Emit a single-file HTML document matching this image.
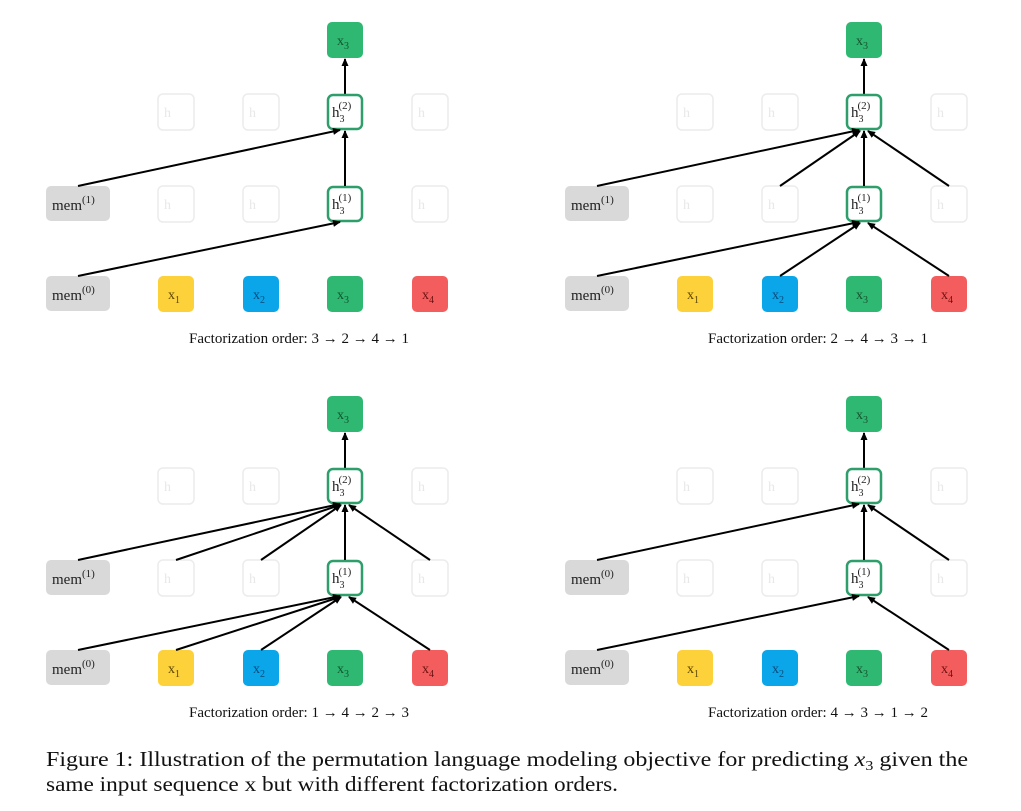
<!DOCTYPE html>
<html><head><meta charset="utf-8"><style>
html,body{margin:0;padding:0;background:#fff;}
svg{display:block;}
.s{font-family:"Liberation Serif",serif;}
</style></head><body>
<svg width="1021" height="811" viewBox="0 0 1021 811" xmlns="http://www.w3.org/2000/svg" class="s">
<defs>
<marker id="a" markerWidth="8" markerHeight="8" refX="7" refY="4" orient="auto" markerUnits="userSpaceOnUse">
<path d="M0,0.5 L8,4 L0,7.5 z" fill="#000"/>
</marker>
<g id="base">
  <!-- top x3 -->
  <rect x="327" y="22" width="36" height="36" rx="5" fill="#2eb872"/>
  <text x="337" y="45" font-size="14" fill="#14532d">x<tspan font-size="10" dy="4">3</tspan></text>
  <line x1="345" y1="94" x2="345" y2="59" stroke="#000" stroke-width="2" marker-end="url(#a)"/>
  <!-- faded h boxes -->
  <g fill="none" stroke="#ececec" stroke-width="1.5">
    <rect x="158" y="94" width="36" height="36" rx="5"/>
    <rect x="243" y="94" width="36" height="36" rx="5"/>
    <rect x="412" y="94" width="36" height="36" rx="5"/>
    <rect x="158" y="186" width="36" height="36" rx="5"/>
    <rect x="243" y="186" width="36" height="36" rx="5"/>
    <rect x="412" y="186" width="36" height="36" rx="5"/>
  </g>
  <g font-size="14" fill="#e8e8e8">
    <text x="164" y="117">h</text><text x="249" y="117">h</text><text x="418" y="117">h</text>
    <text x="164" y="209">h</text><text x="249" y="209">h</text><text x="418" y="209">h</text>
  </g>
  <!-- h boxes -->
  <rect x="328" y="95" width="34" height="34" rx="5" fill="#fff" stroke="#2e9e6a" stroke-width="2.5"/>
  <text x="332" y="117" font-size="15" fill="#222">h<tspan font-size="10" dy="5">3</tspan><tspan font-size="11" dx="-6" dy="-13">(2)</tspan></text>
  <rect x="328" y="187" width="34" height="34" rx="5" fill="#fff" stroke="#2e9e6a" stroke-width="2.5"/>
  <text x="332" y="209" font-size="15" fill="#222">h<tspan font-size="10" dy="5">3</tspan><tspan font-size="11" dx="-6" dy="-13">(1)</tspan></text>
  <line x1="345" y1="186" x2="345" y2="131" stroke="#000" stroke-width="2" marker-end="url(#a)"/>
  <!-- x row -->
  <rect x="158" y="276" width="36" height="36" rx="5" fill="#fdd13a"/>
  <text x="168" y="299" font-size="14" fill="#5a4400">x<tspan font-size="10" dy="4">1</tspan></text>
  <rect x="243" y="276" width="36" height="36" rx="5" fill="#0ba5e9"/>
  <text x="253" y="299" font-size="14" fill="#074a7a">x<tspan font-size="10" dy="4">2</tspan></text>
  <rect x="327" y="276" width="36" height="36" rx="5" fill="#2eb872"/>
  <text x="337" y="299" font-size="14" fill="#14532d">x<tspan font-size="10" dy="4">3</tspan></text>
  <rect x="412" y="276" width="36" height="36" rx="5" fill="#f45d5d"/>
  <text x="422" y="299" font-size="14" fill="#6b1010">x<tspan font-size="10" dy="4">4</tspan></text>
  <!-- mem0 -->
  <rect x="46" y="276" width="64" height="35" rx="5" fill="#d9d9d9"/>
  <text x="52" y="300" font-size="15" fill="#222">mem<tspan font-size="11" dy="-7">(0)</tspan></text>
  <line x1="78" y1="276" x2="340" y2="222" stroke="#000" stroke-width="2" marker-end="url(#a)"/>
</g>
</defs>

<!-- Panel 1 -->
<g>
  <use href="#base"/>
  <rect x="46" y="186" width="64" height="35" rx="5" fill="#d9d9d9"/>
  <text x="52" y="210" font-size="15" fill="#222">mem<tspan font-size="11" dy="-7">(1)</tspan></text>
  <line x1="78" y1="186" x2="340" y2="130" stroke="#000" stroke-width="2" marker-end="url(#a)"/>
  <text x="299" y="343" font-size="15" text-anchor="middle" fill="#111">Factorization order: 3 → 2 → 4 → 1</text>
</g>

<!-- Panel 2 -->
<g transform="translate(519,0)">
  <use href="#base"/>
  <rect x="46" y="186" width="64" height="35" rx="5" fill="#d9d9d9"/>
  <text x="52" y="210" font-size="15" fill="#222">mem<tspan font-size="11" dy="-7">(1)</tspan></text>
  <g stroke="#000" stroke-width="2" marker-end="url(#a)">
    <line x1="78" y1="186" x2="340" y2="130"/>
    <line x1="261" y1="186" x2="341" y2="131"/>
    <line x1="430" y1="186" x2="349" y2="131"/>
    <line x1="261" y1="276" x2="341" y2="223"/>
    <line x1="430" y1="276" x2="349" y2="223"/>
  </g>
  <text x="299" y="343" font-size="15" text-anchor="middle" fill="#111">Factorization order: 2 → 4 → 3 → 1</text>
</g>

<!-- Panel 3 -->
<g transform="translate(0,374)">
  <use href="#base"/>
  <rect x="46" y="186" width="64" height="35" rx="5" fill="#d9d9d9"/>
  <text x="52" y="210" font-size="15" fill="#222">mem<tspan font-size="11" dy="-7">(1)</tspan></text>
  <g stroke="#000" stroke-width="2" marker-end="url(#a)">
    <line x1="78" y1="186" x2="340" y2="130"/>
    <line x1="176" y1="186" x2="340" y2="131"/>
    <line x1="261" y1="186" x2="341" y2="131"/>
    <line x1="430" y1="186" x2="349" y2="131"/>
    <line x1="176" y1="276" x2="340" y2="223"/>
    <line x1="261" y1="276" x2="341" y2="223"/>
    <line x1="430" y1="276" x2="349" y2="223"/>
  </g>
  <text x="299" y="343" font-size="15" text-anchor="middle" fill="#111">Factorization order: 1 → 4 → 2 → 3</text>
</g>

<!-- Panel 4 -->
<g transform="translate(519,374)">
  <use href="#base"/>
  <rect x="46" y="186" width="64" height="35" rx="5" fill="#d9d9d9"/>
  <text x="52" y="210" font-size="15" fill="#222">mem<tspan font-size="11" dy="-7">(0)</tspan></text>
  <g stroke="#000" stroke-width="2" marker-end="url(#a)">
    <line x1="78" y1="186" x2="340" y2="130"/>
    <line x1="430" y1="186" x2="349" y2="131"/>
    <line x1="430" y1="276" x2="349" y2="223"/>
  </g>
  <text x="299" y="343" font-size="15" text-anchor="middle" fill="#111">Factorization order: 4 → 3 → 1 → 2</text>
</g>

<!-- Caption -->
<text x="46" y="766" font-size="21" fill="#111" textLength="922" lengthAdjust="spacingAndGlyphs">Figure 1: Illustration of the permutation language modeling objective for predicting <tspan font-style="italic">x</tspan><tspan font-size="14" dy="4">3</tspan><tspan dy="-4"> given the</tspan></text>
<text x="46" y="791" font-size="21" fill="#111" textLength="572" lengthAdjust="spacingAndGlyphs">same input sequence x but with different factorization orders.</text>
</svg>
</body></html>
